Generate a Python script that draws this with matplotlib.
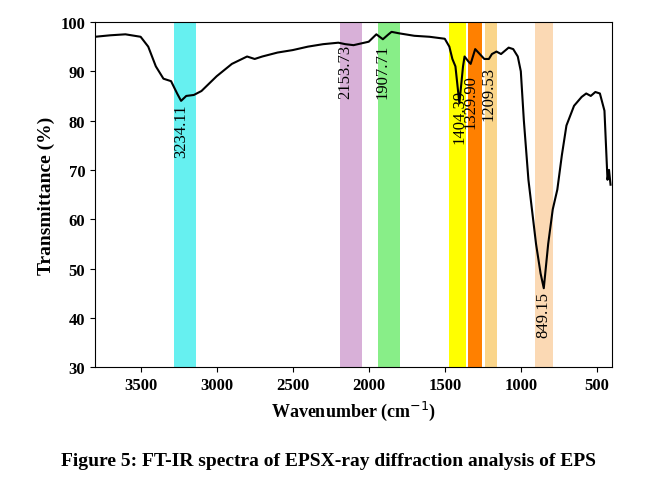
import matplotlib
matplotlib.use("Agg")
import matplotlib.pyplot as plt
import numpy as np

wn = [3800,3700,3600,3500,3450,3400,3350,3300,3260,3234,3200,3150,3100,3000,2900,2800,2750,2700,2600,2500,2400,2300,2200,2154,2100,2000,1950,1907,1870,1850,1800,1700,1600,1500,1470,1450,1430,1404,1380,1370,1345,1330,1300,1270,1240,1210,1190,1160,1130,1080,1050,1020,1000,980,950,900,870,849,820,790,760,730,700,650,600,570,540,510,480,450,430,420,410]
tr = [97,97.3,97.5,97,95,91,88.5,88,85.5,84,85,85.2,86,89,91.5,93,92.5,93,93.8,94.3,95,95.5,95.8,95.5,95.3,96,97.5,96.5,97.5,98,97.7,97.2,97,96.6,95,92.5,91,83.5,91,93,92,91.5,94.5,93.5,92.5,92.5,93.5,94,93.5,94.8,94.5,93,90,80,68,55,49,46,55,62,66,73,79,83,84.8,85.5,85,85.8,85.5,82,68,70,67]
bands = [(3283,3138,'#66f0f0'),(2191,2046,'#d8b0d8'),(1941,1796,'#88ee88'),
         (1474,1362,'#ffff00'),(1349,1257,'#ff8000'),(1237,1158,'#fad58a'),(908,789,'#fbd9b4')]
labels = [(3234.11,'3234.11',83.5),(2153.73,'2153.73',95.5),(1907.71,'1907.71',95.5),
          (1404.39,'1404.39',86.5),(1329.90,'1329.90',89.5),(1209.53,'1209.53',91),(849.15,'849.15',45.5)]

plt.rcParams['font.family'] = ['Liberation Serif']
fig = plt.figure(figsize=(6.57,4.85), dpi=100)
ax = fig.add_axes([0.1446,0.241,0.787,0.7116])
for a,b,c in bands:
    ax.axvspan(b,a,color=c,lw=0)
ax.plot(wn,tr,color='black',lw=1.5)
for x,t,y in labels:
    ax.text(x,y,t,rotation=90,ha='center',va='top',fontsize=12)
ax.set_xlim(3800,400)
ax.set_ylim(30,100)
ax.set_xticks([3500,3000,2500,2000,1500,1000,500])
ax.set_yticks(range(30,101,10))
ax.tick_params(labelsize=12, direction='out')
for l in ax.get_xticklabels()+ax.get_yticklabels():
    l.set_fontweight('bold')
ax.set_xlabel('Wavenumber (cm$^{-1}$)', fontsize=13, fontweight='bold')
ax.set_ylabel('Transmittance (%)', fontsize=14, fontweight='bold')
fig.text(0.5,0.04,'Figure 5: FT-IR spectra of EPSX-ray diffraction analysis of EPS',
         ha='center',fontsize=14,fontweight='bold')
fig.savefig('out.png', dpi=100)
